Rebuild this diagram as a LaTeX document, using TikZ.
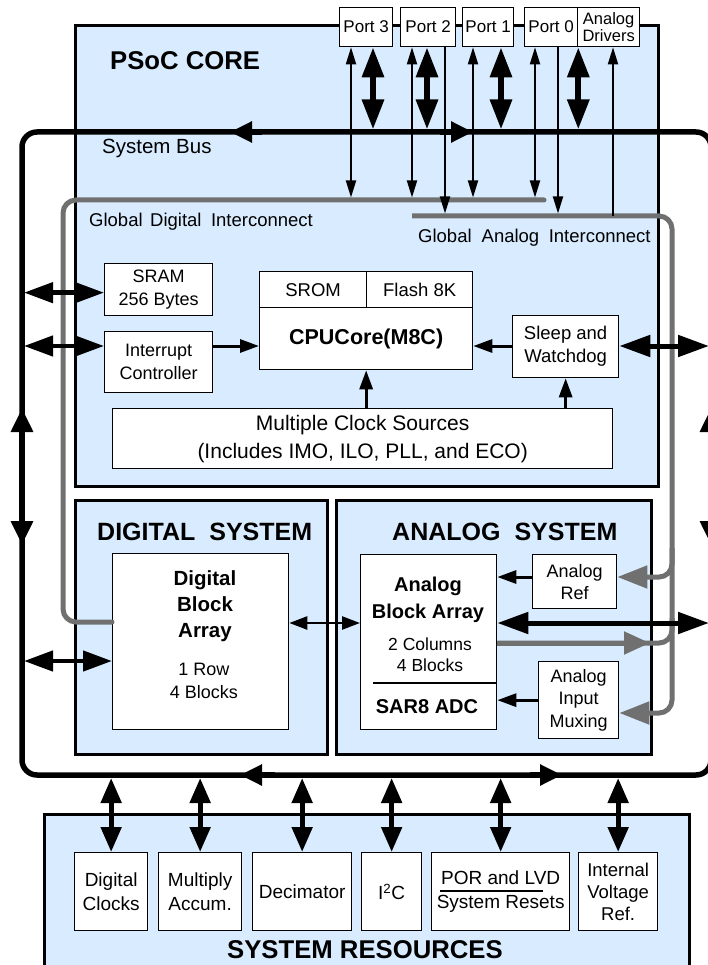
\documentclass[tikz,border=0pt]{standalone}
\usepackage{fontspec}
\setmainfont{Liberation Sans}
\usetikzlibrary{arrows.meta}
\definecolor{corefill}{RGB}{217,236,255}
\definecolor{gbus}{RGB}{112,112,112}
\newcommand\fsz[2]{\fontsize{#1pt}{#2pt}\selectfont}
\begin{document}
\begin{tikzpicture}[x=1pt,y=-1pt,
 panel/.style={draw=black, line width=2.6pt, fill=corefill, inner sep=0pt, anchor=north west},
 box/.style={draw=black, line width=1.3pt, fill=white, inner sep=0pt, anchor=north west, align=center, font=\fsz{18}{23}},
 lbl/.style={inner sep=0pt, align=center},
 busline/.style={line width=5.5pt, rounded corners=15pt},
 bushead/.style={line width=5.5pt, -{Triangle[length=22pt,width=20pt]}},
 busdbl/.style={line width=6pt, {Triangle[length=24pt,width=21pt]}-{Triangle[length=24pt,width=21pt]}},
 portthin/.style={line width=1.8pt, {Triangle[length=17pt,width=10pt]}-{Triangle[length=17pt,width=10pt]}},
 portone/.style={line width=1.8pt, -{Triangle[length=17pt,width=10pt]}},
 portthick/.style={line width=6pt, {Triangle[length=30pt,width=21pt]}-{Triangle[length=30pt,width=21pt]}},
 sidearr/.style={line width=4.5pt, {Triangle[length=29pt,width=20pt]}-{Triangle[length=29pt,width=20pt]}},
 bigdbl/.style={line width=5pt, {Triangle[length=31pt,width=21pt]}-{Triangle[length=31pt,width=21pt]}},
 smallarr/.style={line width=3pt, -{Triangle[length=19pt,width=13pt]}},
 midarr/.style={line width=2.5pt, {Triangle[length=18pt,width=13pt]}-{Triangle[length=18pt,width=13pt]}},
 resarr/.style={line width=5pt, {Triangle[length=25pt,width=20pt]}-{Triangle[length=25pt,width=20pt]}},
 gline/.style={line width=5pt, draw=gbus, rounded corners=13pt},
 garr/.style={-{Triangle[length=30pt,width=22pt]}},
 ghead/.style={line width=5pt, draw=gbus, -{Triangle[length=26pt,width=22pt]}}]
\useasboundingbox (0,0) rectangle (707,965);

% panels
\node[panel, minimum width=583pt, minimum height=461pt] (core) at (74,24) {};
\node[panel, minimum width=252pt, minimum height=254pt] (digsys) at (74,499) {};
\node[panel, minimum width=315pt, minimum height=254pt] (anasys) at (335,499) {};
\node[panel, minimum width=645pt, minimum height=162pt] (sysres) at (43,813) {};

% panel labels
\node[lbl, anchor=base west, font=\bfseries\fsz{25.7}{30}] (lcore) at (110,69.3) {PSoC CORE};
\node[lbl, anchor=base west, font=\fsz{20.5}{24}] (lbus) at (102,154) {System Bus};
\node[lbl, anchor=base west, font=\fsz{18.5}{22}] (lgdi) at (89,226.7) {Global\hspace{7.5pt}Digital\hspace{9.5pt}Interconnect};
\node[lbl, anchor=base west, font=\fsz{18.5}{22}] (lgai) at (418,243) {Global\hspace{10pt}Analog\hspace{9.5pt}Interconnect};
\node[lbl, anchor=base west, font=\bfseries\fsz{25}{30}] (ldig) at (97,540) {DIGITAL\hspace{14pt}SYSTEM};
\node[lbl, anchor=base west, font=\bfseries\fsz{25}{30}] (lana) at (392,540) {ANALOG\hspace{14pt}SYSTEM};
\node[lbl, anchor=base, font=\bfseries\fsz{25.7}{30}] (lres) at (365,958) {SYSTEM RESOURCES};

% system bus
\coordinate (bTM) at (300,132);
\coordinate (bTL) at (22,132);
\coordinate (bTR) at (711,132);
\coordinate (bBR) at (711,775);
\coordinate (bBL) at (22,775);
\draw[busline] (bTM) -- (bTR) -- (bBR) -- (bBL) -- (bTL) -- cycle;
\coordinate (ta1s) at (262,132); \coordinate (ta1t) at (230,132);
\coordinate (ta2s) at (440,132); \coordinate (ta2t) at (473,132);
\coordinate (ba1s) at (275,775); \coordinate (ba1t) at (240,775);
\coordinate (ba2s) at (530,775); \coordinate (ba2t) at (562,775);
\draw[bushead] (ta1s) -- (ta1t);
\draw[bushead] (ta2s) -- (ta2t);
\draw[bushead] (ba1s) -- (ba1t);
\draw[bushead] (ba2s) -- (ba2t);
\coordinate (lu) at (22,408); \coordinate (ld) at (22,545);
\coordinate (ru) at (711,408); \coordinate (rd) at (711,545);
\draw[busdbl] (lu) -- (ld);
\draw[busdbl] (ru) -- (rd);

% gray interconnects
\coordinate (gdiE) at (544,200); \coordinate (gdiC1) at (63,200); \coordinate (gdiC2) at (63,622);
\coordinate (gaiS) at (412,216); \coordinate (gaiC1) at (672,216); \coordinate (gaiC2) at (672,713);
\coordinate (arefJ) at (672,548); \coordinate (h577) at (0,577);
\coordinate (abaJ) at (672,618); \coordinate (h643) at (0,643); \coordinate (abaTip) at (650,643);

% ports
\node[box, font=\fsz{17}{18}, minimum width=53pt, minimum height=39pt] (port3) at (339,7) {Port 3};
\node[box, font=\fsz{17}{18}, minimum width=55pt, minimum height=39pt] (port2) at (400,7) {Port 2};
\node[box, font=\fsz{17}{18}, minimum width=51pt, minimum height=39pt] (port1) at (462,7) {Port 1};
\node[box, font=\fsz{17}{18}, minimum width=53pt, minimum height=39pt] (port0) at (524,7) {Port 0};
\node[box, font=\fsz{16.5}{17}, minimum width=62pt, minimum height=39pt] (adrv) at (577,7) {Analog\\Drivers};

% core blocks
\node[box, minimum width=108pt, minimum height=52pt] (sram) at (104,263) {SRAM\\256 Bytes};
\node[box, minimum width=108pt, minimum height=61pt] (intc) at (104,331) {Interrupt\\Controller};
\node[box, minimum width=107pt, minimum height=36pt, font=\fsz{18.5}{22}] (srom) at (259,271) {SROM};
\node[box, minimum width=106pt, minimum height=36pt, font=\fsz{18.5}{22}] (flash) at (366,271) {Flash 8K};
\node[box, minimum width=213pt, minimum height=62pt, font=\bfseries\fsz{21.5}{25}] (cpum) at (259,307) {CPUCore(M8C)};
\node[box, minimum width=106pt, minimum height=62pt, font=\fsz{18.5}{23}] (sleep) at (512,315) {Sleep and\\Watchdog};
\node[box, minimum width=500pt, minimum height=60pt, font=\fsz{21}{28}] (clk) at (112,408) {Multiple Clock Sources\\(Includes IMO, ILO, PLL, and ECO)};

% digital / analog blocks
\node[box, minimum width=176pt, minimum height=176pt] (dba) at (112,553) {};
\node[lbl, font=\bfseries\fsz{20.5}{26}] (dbat) at (205,606) {Digital\\Block\\Array};
\node[lbl, font=\fsz{18}{23}] (dbas) at (204,681) {1 Row\\4 Blocks};
\node[box, minimum width=136pt, minimum height=175pt] (aba) at (360,554) {};
\node[lbl, font=\bfseries\fsz{20}{27}] (abat) at (428,600) {Analog\\Block Array};
\node[lbl, font=\fsz{17.5}{21}] (abas) at (430,655) {2 Columns\\4 Blocks};
\node[lbl, font=\bfseries\fsz{20}{24}] (abaadc) at (427,707) {SAR8 ADC};
\draw[line width=2pt] (373,683) -- (496,683);
\node[box, minimum width=84pt, minimum height=54pt, font=\fsz{18}{22}] (aref) at (532,554) {Analog\\Ref};
\node[box, minimum width=80pt, minimum height=77pt, font=\fsz{18}{22.5}] (amux) at (538,661) {Analog\\Input\\Muxing};

% system resources
\node[box, font=\fsz{19}{24}, minimum width=73pt, minimum height=78pt] (dclk) at (74,852) {Digital\\Clocks};
\node[box, font=\fsz{19}{24}, minimum width=83pt, minimum height=78pt] (mac) at (158,852) {Multiply\\Accum.};
\node[box, font=\fsz{19}{24}, minimum width=99pt, minimum height=78pt] (dec) at (252,852) {Decimator};
\node[box, font=\fsz{19}{24}, minimum width=60pt, minimum height=78pt] (i2c) at (361,852) {I\textsuperscript{2}C};
\node[box, font=\fsz{19}{24}, minimum width=138pt, minimum height=78pt] (por) at (431,852) {POR and LVD\\System Resets};
\draw[line width=1.2pt] (440,891) -- (543,891);
\node[box, font=\fsz{18.5}{22}, minimum width=79pt, minimum height=78pt] (ivr) at (578,852) {Internal\\Voltage\\Ref.};

% gray paths
\draw[gline, line cap=round] (gdiE) -- (gdiC1) -- (gdiC2) -- (dba.west |- gdiC2);
\draw[gline, garr] (gaiS) -- (gaiC1) -- (gaiC2) -- (amux.east |- gaiC2);
\draw[gline, garr] (arefJ) -- (arefJ |- h577) -- (aref.east |- h577);
\draw[gline] (aba.east |- h643) -- (abaJ |- h643) -- (abaJ);
\draw[ghead] (aba.east |- h643) -- (abaTip);

% port connectors
\coordinate (gdiTop) at (0,197.5);
\coordinate (busTop) at (0,129.5);
\coordinate (gaiTop) at (0,213.5);
\coordinate (p3a) at ([xshift=12pt]port3.south west);
\coordinate (p3b) at ([xshift=34pt]port3.south west);
\coordinate (p2a) at ([xshift=12pt]port2.south west);
\coordinate (p2b) at ([xshift=27pt]port2.south west);
\coordinate (p2c) at ([xshift=45pt]port2.south west);
\coordinate (p1a) at ([xshift=11pt]port1.south west);
\coordinate (p1b) at ([xshift=39pt]port1.south west);
\coordinate (p0a) at ([xshift=11pt]port0.south west);
\coordinate (p0c) at ([xshift=34pt]port0.south west);
\coordinate (p0b) at (port0.south east);
\coordinate (pad) at ([xshift=36pt]adrv.south west);
\draw[portthin] (p3a) -- (p3a |- gdiTop);
\draw[portthin] (p2a) -- (p2a |- gdiTop);
\draw[portthin] (p1a) -- (p1a |- gdiTop);
\draw[portthin] (p0a) -- (p0a |- gdiTop);
\draw[portone] (p2c) -- (p2c |- gaiTop);
\draw[portone] (p0c) -- (p0c |- gaiTop);
\draw[portone] (pad |- gaiC1) -- (pad);
\draw[portthick] (p3b) -- (p3b |- busTop);
\draw[portthick] (p2b) -- (p2b |- busTop);
\draw[portthick] (p1b) -- (p1b |- busTop);
\draw[portthick] (p0b) -- (p0b |- busTop);

% core connectors
\coordinate (busL) at (24,0);
\coordinate (busR) at (709,0);
\coordinate (h346) at (0,346);
\coordinate (sramIn) at ([yshift=-3pt]sram.west);
\draw[sidearr] (busL |- sramIn) -- (sramIn);
\draw[sidearr] (busL |- h346) -- (intc.west |- h346);
\draw[smallarr] (intc.east |- h346) -- (cpum.west |- h346);
\draw[smallarr] (sleep.west |- h346) -- (cpum.east |- h346);
\draw[bigdbl] (sleep.east |- h346) -- (busR |- h346);
\draw[smallarr] (clk.north -| cpum.south) -- (cpum.south);
\draw[smallarr] (clk.north -| sleep.south) -- (sleep.south);

% digital / analog connectors
\coordinate (h661) at (0,661);
\coordinate (h623) at (0,623);
\draw[sidearr] (busL |- h661) -- (dba.west |- h661);
\draw[midarr] (dba.east |- h623) -- (aba.west |- h623);
\draw[bigdbl] (aba.east |- h623) -- (busR |- h623);
\draw[smallarr] (aref.west |- h577) -- (aba.east |- h577);
\draw[smallarr] (amux.west) -- (aba.east |- amux.west);

% resource connectors
\coordinate (busB) at (0,778);
\draw[resarr] (dclk.north |- busB) -- (dclk.north);
\draw[resarr] (mac.north |- busB) -- (mac.north);
\draw[resarr] (dec.north |- busB) -- (dec.north);
\draw[resarr] (i2c.north |- busB) -- (i2c.north);
\draw[resarr] (por.north |- busB) -- (por.north);
\draw[resarr] (ivr.north |- busB) -- (ivr.north);
\end{tikzpicture}
\end{document}
